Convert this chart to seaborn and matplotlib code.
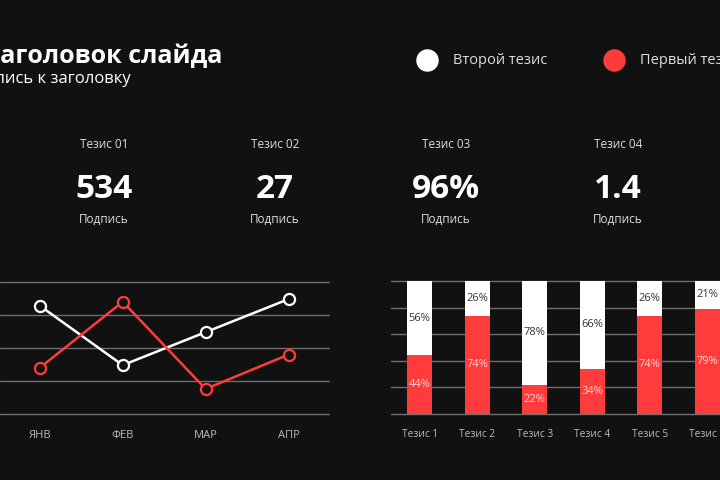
import matplotlib
matplotlib.use("Agg")
import matplotlib.pyplot as plt
import numpy as np
import pandas as pd
import seaborn as sns

# --- data ---
months = ["ЯНВ", "ФЕВ", "МАР", "АПР"]
second_thesis = [82, 37, 62, 87]   # white line
first_thesis = [35, 85, 19, 45]    # red line

theses = ["Тезис 1", "Тезис 2", "Тезис 3", "Тезис 4", "Тезис 5", "Тезис 6"]
red_share = [44, 74, 22, 34, 74, 79]
white_share = [56, 26, 78, 66, 26, 21]

kpi_titles = ["Тезис 01", "Тезис 02", "Тезис 03", "Тезис 04"]
kpi_values = ["534", "27", "96%", "1.4"]
kpi_caption = "Подпись"

BG = "#111111"
RED = "#ff3b3b"
GRID = "#6e6e6e"

sns.set_theme(style="dark")
plt.rcParams["font.family"] = ["Open Sans", "DejaVu Sans"]

fig = plt.figure(figsize=(7.2, 4.8), dpi=100, facecolor=BG)

# overlay in pixel coordinates for header texts and legend
top = fig.add_axes([0, 0, 1, 1])
top.set_xlim(0, 720)
top.set_ylim(480, 0)
top.axis("off")

top.text(222, 57, "Заголовок слайда", ha="right", va="center",
         color="white", fontsize=18, fontweight="bold")
top.text(131, 79, "Подпись к заголовку", ha="right", va="center",
         color="white", fontsize=12)

top.scatter([427], [60], s=230, color="white")
top.text(453, 60, "Второй тезис", ha="left", va="center", color="#dddddd", fontsize=10.5)
top.scatter([614], [60], s=230, color=RED)
top.text(640, 60, "Первый тезис", ha="left", va="center", color="#dddddd", fontsize=10.5)

kpi_x = [104, 275, 446, 618]
for x, t, v in zip(kpi_x, kpi_titles, kpi_values):
    top.text(x, 144, t, ha="center", va="center", color="#dddddd", fontsize=8.5)
    top.text(x, 190, v, ha="center", va="center", color="white", fontsize=24, fontweight="bold")
    top.text(x, 219, kpi_caption, ha="center", va="center", color="#dddddd", fontsize=8.5)

# --- line chart ---
ax1 = fig.add_axes([0, 1 - 418 / 480, 330 / 720, (418 - 278) / 480], facecolor=BG)
df_line = pd.DataFrame({"month": months, "second": second_thesis, "first": first_thesis})
for col, c in [("second", "white"), ("first", RED)]:
    sns.lineplot(data=df_line, x="month", y=col, ax=ax1, color=c, lw=1.8,
                 marker="o", markersize=8, markerfacecolor=BG,
                 markeredgecolor=c, markeredgewidth=1.6, zorder=3)
ax1.set_xlim(-0.48, 3.5)
ax1.set_ylim(-3, 103)
ax1.set_yticks([0, 25, 50, 75, 100])
ax1.yaxis.grid(True, color=GRID, lw=1)
ax1.xaxis.grid(False)
ax1.set_axisbelow(True)
ax1.set_yticklabels([])
ax1.tick_params(axis="y", length=0)
ax1.tick_params(axis="x", length=0, pad=9, labelcolor="#bbbbbb", labelsize=8)
ax1.set_xlabel("")
ax1.set_ylabel("")
for s in ax1.spines.values():
    s.set_visible(False)

# --- stacked bar chart ---
ax2 = fig.add_axes([391 / 720, 1 - 416.7 / 480, 345 / 720, (416.7 - 278.3) / 480], facecolor=BG)
df_bar = pd.DataFrame({"thesis": theses, "red": red_share, "white": white_share})
df_bar["total"] = df_bar["red"] + df_bar["white"]
sns.barplot(data=df_bar, x="thesis", y="total", ax=ax2, color="white",
            width=0.435, saturation=1, edgecolor="none", zorder=2)
sns.barplot(data=df_bar, x="thesis", y="red", ax=ax2, color=RED,
            width=0.435, saturation=1, edgecolor="none", zorder=3)
for i, (r, w) in enumerate(zip(red_share, white_share)):
    ax2.text(i, r / 2, f"{r}%", ha="center", va="center", color="#ffd6d6", fontsize=8, zorder=4)
    ax2.text(i, r + w / 2, f"{w}%", ha="center", va="center", color="#333333", fontsize=8, zorder=4)
ax2.set_xlim(-0.5, 5.5)
ax2.set_ylim(-2, 102)
ax2.set_yticks([0, 20, 40, 60, 80, 100])
ax2.yaxis.grid(True, color=GRID, lw=1)
ax2.xaxis.grid(False)
ax2.set_axisbelow(True)
ax2.set_yticklabels([])
ax2.tick_params(axis="y", length=0)
ax2.tick_params(axis="x", length=0, pad=9, labelcolor="#bbbbbb", labelsize=7.3)
ax2.set_xlabel("")
ax2.set_ylabel("")
for s in ax2.spines.values():
    s.set_visible(False)

fig.savefig("out.png", dpi=100, facecolor=BG)
